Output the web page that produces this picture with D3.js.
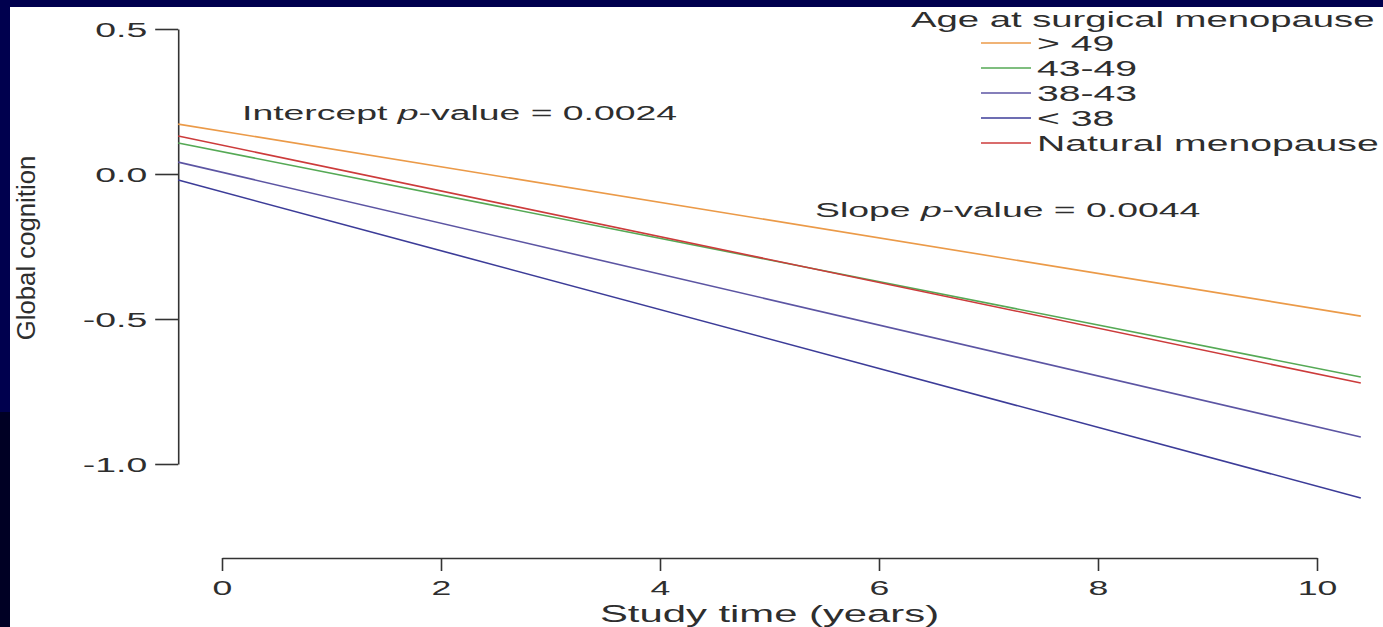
<!DOCTYPE html>
<html>
<head>
<meta charset="utf-8">
<script src="https://cdn.jsdelivr.net/npm/d3@7"></script>
<style>
    html, body { margin: 0; padding: 0; background: #ffffff; overflow: hidden; }
    svg { display: block; }
    text { font-family: "Liberation Sans", Arial, sans-serif; fill: #2e2e2e; }
</style>
</head>
<body>
<div id="chart"></div>
<script>
// fitted lines, read at both ends of the plotted time range
const times = [-0.4, 10.4];
const over49 = [0.172, -0.490];
const age43to49 = [0.107, -0.700];
const age38to43 = [0.041, -0.907];
const under38 = [-0.021, -1.117];
const natural = [0.131, -0.721];

const groups = ["> 49", "43-49", "38-43", "< 38", "Natural menopause"];
const groupValues = [over49, age43to49, age38to43, under38, natural];
const groupColors = ["#eb9a48", "#55a955", "#5c55a3", "#3c3c98", "#cc3b3b"];

const xTicks = [0, 2, 4, 6, 8, 10];
const yTicks = [0.5, 0.0, -0.5, -1.0];

// the picture is stretched sideways, so every text is too
const stretch = 1.78;

function draw() {
    const W = 1383, H = 627;

    const svg = d3.select("#chart")
        .append("svg")
        .attr("width", W)
        .attr("height", H);

    svg.append("rect").attr("width", W).attr("height", H).attr("fill", "#ffffff");

    // slide frame round the figure
    svg.append("rect").attr("x", 0).attr("y", 0).attr("width", W).attr("height", 7).attr("fill", "#00004e");
    svg.append("rect").attr("x", 0).attr("y", 0).attr("width", 10).attr("height", 412).attr("fill", "#00004e");
    svg.append("rect").attr("x", 0).attr("y", 412).attr("width", 10).attr("height", H - 412).attr("fill", "#000024");

    const x = d3.scaleLinear().domain([0, 10]).range([222, 1317]);
    const y = d3.scaleLinear().domain([-1, 0.5]).range([464, 29]);

    // Y axis
    const yAxis = svg.append("g")
        .attr("transform", "translate(" + x(-0.4) + ",0)")
        .call(d3.axisLeft(y)
            .tickValues(yTicks)
            .tickFormat(function (d) { return d.toFixed(1); })
            .tickSize(23)
            .tickSizeOuter(0));
    yAxis.selectAll("text")
        .attr("x", 0)
        .attr("dy", "0.36em")
        .attr("font-size", 21)
        .attr("transform", "translate(-31,0) scale(" + stretch + ",1)")
        .style("fill", "#2e2e2e");

    // X axis
    const xAxis = svg.append("g")
        .attr("transform", "translate(0,558)")
        .call(d3.axisBottom(x)
            .tickValues(xTicks)
            .tickFormat(function (d) { return d; })
            .tickSize(13)
            .tickSizeOuter(0));
    xAxis.selectAll("text")
        .attr("y", 0)
        .attr("dy", 0)
        .attr("font-size", 20)
        .attr("transform", "translate(0,37) scale(" + stretch + ",1)")
        .style("fill", "#2e2e2e");

    svg.selectAll(".domain, .tick line")
        .attr("stroke", "#333")
        .attr("stroke-width", 1.6);
    svg.selectAll(".tick text").attr("font-family", "Liberation Sans, Arial, sans-serif");

    // axis titles
    svg.append("text")
        .attr("font-size", 23.5)
        .attr("text-anchor", "middle")
        .attr("transform", "translate(" + (x(0) + x(10)) / 2 + ",622) scale(" + stretch + ",1)")
        .text("Study time (years)");

    svg.append("text")
        .attr("font-size", 23)
        .attr("text-anchor", "middle")
        .attr("transform", "translate(35,248) rotate(-90) scale(1.12,1.15)")
        .text("Global cognition");

    // fitted lines
    const line = d3.line()
        .x(function (d) { return x(d.t); })
        .y(function (d) { return y(d.v); });

    const drawOrder = [0, 2, 3, 1, 4];
    drawOrder.forEach(function (i) {
        const pts = times.map(function (t, k) { return {t: t, v: groupValues[i][k]}; });
        svg.append("path")
            .datum(pts)
            .attr("fill", "none")
            .attr("stroke", groupColors[i])
            .attr("stroke-width", 1.6)
            .attr("d", line);
    });

    // p-value notes
    const intercept = svg.append("text")
        .attr("font-size", 21)
        .attr("transform", "translate(242,120) scale(" + stretch + ",1)");
    intercept.append("tspan").text("Intercept ");
    intercept.append("tspan").attr("font-style", "italic").text("p");
    intercept.append("tspan").text("-value = 0.0024");

    const slope = svg.append("text")
        .attr("font-size", 21)
        .attr("transform", "translate(815,217) scale(" + stretch + ",1)");
    slope.append("tspan").text("Slope ");
    slope.append("tspan").attr("font-style", "italic").text("p");
    slope.append("tspan").text("-value = 0.0044");

    // legend
    const legend = svg.append("g");
    legend.append("text")
        .attr("font-size", 21.5)
        .attr("transform", "translate(911,27) scale(" + stretch + ",1)")
        .text("Age at surgical menopause");

    groups.forEach(function (name, i) {
        const base = 51 + i * 25;
        legend.append("line")
            .attr("x1", 981).attr("x2", 1031)
            .attr("y1", base - 8).attr("y2", base - 8)
            .attr("stroke", groupColors[i])
            .attr("stroke-width", 1.6);
        legend.append("text")
            .attr("font-size", 22)
            .attr("transform", "translate(1037," + base + ") scale(" + stretch + ",1)")
            .text(name);
    });
}
draw();
</script>
</body>
</html>
